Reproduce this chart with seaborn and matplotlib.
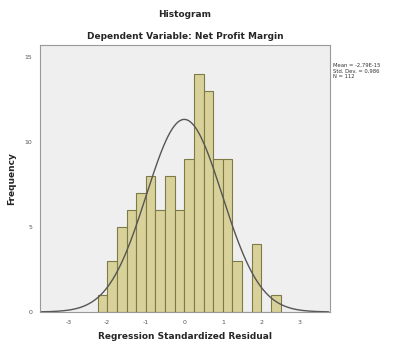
import numpy as np
import pandas as pd
import matplotlib
matplotlib.use("Agg")
import matplotlib.pyplot as plt
import seaborn as sns

# bins of 0.25 from -2.25 to 2.5, counts
bin_edges = [-2.25, -2.0, -1.75, -1.5, -1.25, -1.0, -0.75, -0.5, -0.25, 0.0,
             0.25, 0.5, 0.75, 1.0, 1.25, 1.5, 1.75, 2.0, 2.25, 2.5]
counts = [1, 3, 5, 6, 7, 8, 6, 8, 6, 9, 14, 13, 9, 9, 3, 0, 4, 0, 1]
x_ticks = [-3, -2, -1, 0, 1, 2, 3]
y_ticks = [0, 5, 10, 15]
mean_val = -2.79e-15
std_val = 0.986
n_val = 112

centers = [(a + b) / 2 for a, b in zip(bin_edges[:-1], bin_edges[1:])]
df = pd.DataFrame({"resid": centers, "n": counts})

sns.set_style("white")
plt.rcParams["axes.unicode_minus"] = False
fig = plt.figure(figsize=(3.95, 3.47), dpi=100)
ax = fig.add_axes([0.101, 0.101, 0.734, 0.769])
ax.set_facecolor("#efeff0")

sns.histplot(data=df, x="resid", weights="n", bins=bin_edges, ax=ax,
             color="#d8d19a", edgecolor="#7d7a45", linewidth=0.8, alpha=1)

# normal curve scaled to counts
bw = bin_edges[1] - bin_edges[0]
xs = np.linspace(-3.75, 3.75, 300)
ys = n_val * bw / (std_val * np.sqrt(2 * np.pi)) * np.exp(-0.5 * ((xs - 0) / std_val) ** 2)
sns.lineplot(x=xs, y=ys, ax=ax, color="#555555", linewidth=1.0)

ax.set_xlim(-3.75, 3.78)
ax.set_ylim(0, 15.7)
ax.set_xticks(x_ticks)
ax.set_yticks(y_ticks)
ax.tick_params(labelsize=4.5, colors="#555555", length=2, width=0.6)
for s in ax.spines.values():
    s.set_color("#999999")
    s.set_linewidth(0.8)

ax.set_xlabel("Regression Standardized Residual", fontsize=6.5, weight="bold", labelpad=5)
ax.set_ylabel("Frequency", fontsize=6.5, weight="bold", labelpad=6)

fig.text(0.468, 0.958, "Histogram", ha="center", va="center", fontsize=6.5, weight="bold")
fig.text(0.468, 0.895, "Dependent Variable: Net Profit Margin", ha="center", va="center",
         fontsize=6.5, weight="bold")
fig.text(0.843, 0.795, "Mean = -2,79E-15\nStd. Dev. = 0,986\nN = 112", ha="left", va="center",
         fontsize=3.8, color="#333333", linespacing=1.1)

plt.savefig("out.png", dpi=100)
